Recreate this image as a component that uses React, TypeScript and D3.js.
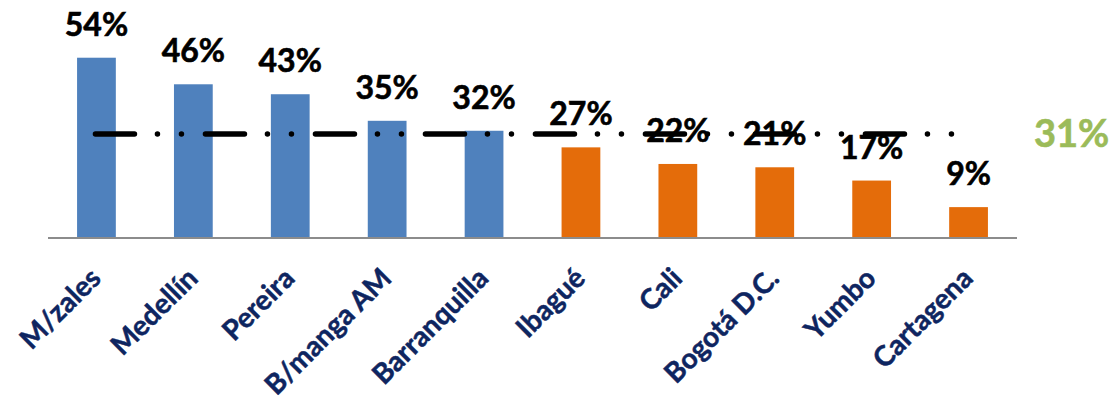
import React from "react";
import * as d3 from "d3";

const categories = ["M/zales", "Medellín", "Pereira", "B/manga AM", "Barranquilla", "Ibagué", "Cali", "Bogotá D.C.", "Yumbo", "Cartagena"];
const values = [54, 46, 43, 35, 32, 27, 22, 21, 17, 9];
const groups = ["above", "above", "above", "above", "above", "below", "below", "below", "below", "below"];
const average = 31;
const averageLabel = "31%";

const W = 1112;
const H = 404;
const FONT = "Lato, 'Open Sans', sans-serif";

export default function App() {
  const x = d3.scaleBand<string>().domain(categories).range([48, 1017]).paddingInner(0.6).paddingOuter(0.3);
  const y = d3.scaleLinear().domain([0, 60]).range([237, 237 - 199.2]);
  const bw = x.bandwidth();
  const colorOf = (g: string) => (g === "above" ? "#4F81BD" : "#E46C0A");
  const first = x(categories[0])! + bw / 2;
  const lastStart = x(categories[categories.length - 1])!;

  return (
    <svg width={W} height={H} style={{ position: "absolute", left: 0, top: 0, background: "#fff" }} fontFamily={FONT}>
      {values.map((v, i) => (
        <rect key={"b" + i} x={x(categories[i])} y={y(v)} width={bw} height={y(0) - y(v)} fill={colorOf(groups[i])} />
      ))}
      <line x1={x.range()[0]} x2={x.range()[1]} y1={y(0) + 1} y2={y(0) + 1} stroke="#8C8C8C" strokeWidth={2} />
      {values.map((v, i) => (
        <text key={"v" + i} x={x(categories[i])! + bw / 2} y={y(v) - 22} textAnchor="middle" fontWeight={700} fontSize={32} fill="#000" stroke="#000" strokeWidth={0.6}>
          {v + "%"}
        </text>
      ))}
      <line
        x1={first - 1}
        x2={lastStart + 4}
        y1={y(average)}
        y2={y(average)}
        stroke="#000"
        strokeWidth={5.5}
        strokeLinecap="round"
        strokeDasharray="39 23 0 24 0 24"
      />
      <text x={1034} y={y(average) + 13} fontWeight={700} fontSize={38} fill="#9BBB59" stroke="#9BBB59" strokeWidth={0.6}>
        {averageLabel}
      </text>
      {categories.map((c, i) => {
        const cx = x(c)! + bw / 2 + 6;
        return (
          <text key={"c" + i} transform={`translate(${cx},${280}) rotate(-45)`} textAnchor="end" fontWeight={700} fontSize={28} fill="#0E2560" stroke="#0E2560" strokeWidth={0.5}>
            {c}
          </text>
        );
      })}
    </svg>
  );
}
